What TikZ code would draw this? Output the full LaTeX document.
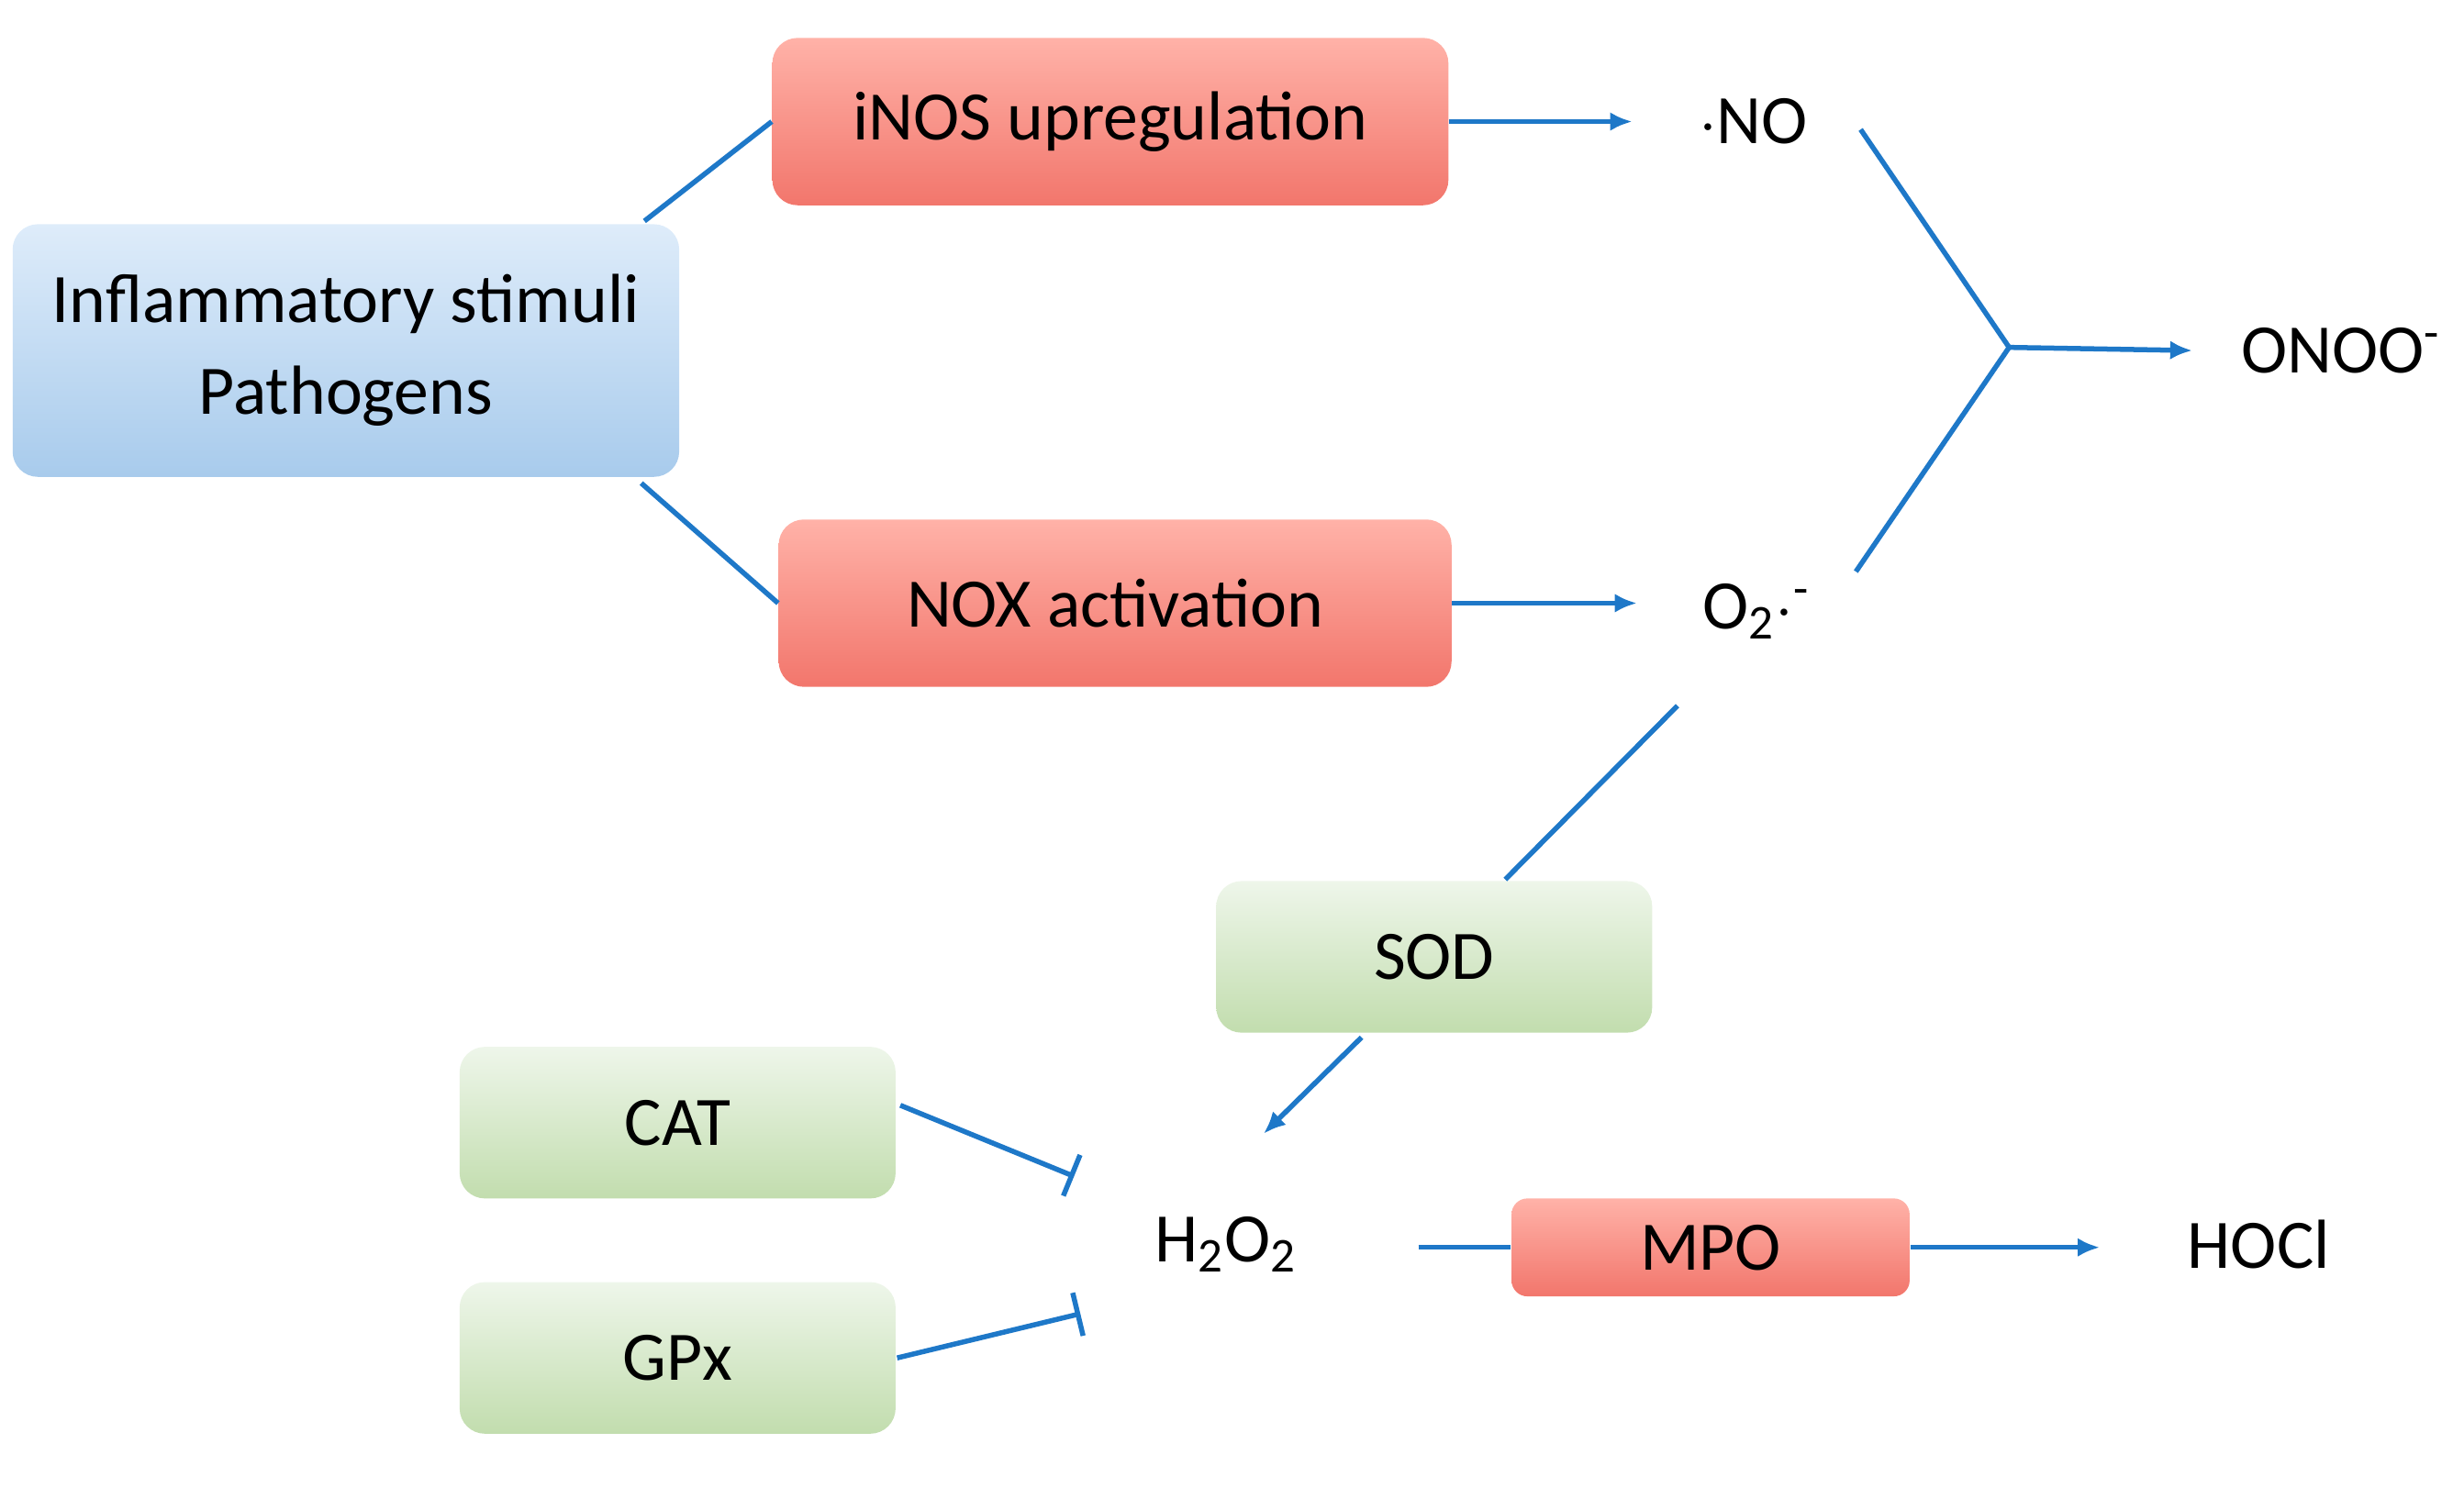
\documentclass[tikz,border=0pt]{standalone}
\usepackage{fontspec}
\setmainfont{Carlito}
\usetikzlibrary{arrows.meta}
\definecolor{ln}{RGB}{30,120,200}
\begin{document}
\begin{tikzpicture}[x=0.5pt,y=-0.5pt,
 box/.style={draw=none,rounded corners=8pt,inner sep=0pt,font=\fontsize{22}{26}\selectfont},
 red/.style={box,top color={rgb,255:red,255;green,178;blue,168},bottom color={rgb,255:red,242;green,118;blue,108}},
 blue/.style={box,top color={rgb,255:red,222;green,236;blue,250},bottom color={rgb,255:red,168;green,203;blue,236}},
 green/.style={box,top color={rgb,255:red,238;green,246;blue,234},bottom color={rgb,255:red,194;green,221;blue,174}},
 lab/.style={font=\fontsize{22}{26}\selectfont},
 c/.style={draw=ln,line width=1.6pt},
 a/.style={c,-{Latex[length=7pt,width=6pt]}},
 b/.style={c,-{Bar[width=14pt]}}]
\useasboundingbox (0,0) rectangle (1560,942);
\node[blue,minimum width=211pt,minimum height=80pt,align=center] (inf) at (219,222) {Inflammatory stimuli\\[3pt]Pathogens};
\node[red,minimum width=214pt,minimum height=53pt] (inos) at (703,77) {iNOS upregulation};
\node[red,minimum width=213pt,minimum height=53pt] (nox) at (706,382) {NOX activation};
\node[green,minimum width=138pt,minimum height=48pt] (sod) at (908,606) {SOD};
\node[green,minimum width=138pt,minimum height=48pt] (cat) at (429,711) {CAT};
\node[green,minimum width=138pt,minimum height=48pt] (gpx) at (429,860) {GPx};
\node[red,minimum width=126pt,minimum height=31pt,rounded corners=5pt] (mpo) at (1083,790) {MPO};
\node[lab] (no) at (1110,77) {$\cdot$NO};
\node[lab] (o2) at (1112,387) {O\textsubscript{2}$\cdot$\textsuperscript{-}};
\node[lab] (onoo) at (1482,222) {ONOO\textsuperscript{-}};
\node[lab] (h2o2) at (776,788) {H\textsubscript{2}O\textsubscript{2}};
\node[lab] (hocl) at (1430,788) {HOCl};
\coordinate (m) at (1272,220);
\draw[c] (408,140) -- (inos.west);
\draw[c] (406,306) -- (nox.west);
\draw[a] (inos.east) -- +(116,0);
\draw[a] (nox.east) -- +(117,0);
\draw[c] (1178,82) -- (m) -- (1175,362);
\draw[a] (m) -- (1388,222);
\draw[c] (1062,447) -- (953,557);
\draw[a] (862,657) -- (800,718);
\draw[b] (570,700) -- (680,745);
\draw[b] (568,860) -- (684,832);
\draw[c] (898,790) -- (mpo.west);
\draw[a] (mpo.east) -- +(120,0);
\end{tikzpicture}
\end{document}
